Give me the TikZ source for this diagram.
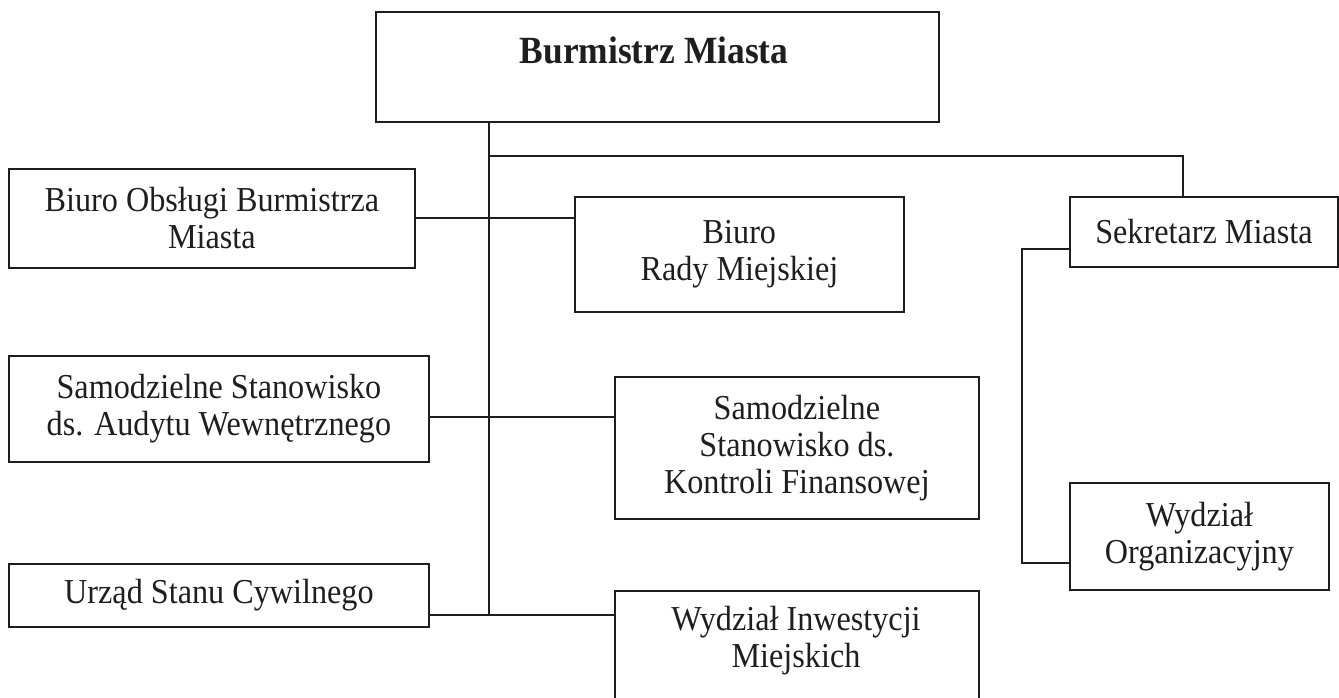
\documentclass[tikz,border=0pt]{standalone}
\usepackage{fontspec}
\setmainfont{Liberation Serif}[FakeStretch=0.92]
\definecolor{ink}{HTML}{1E1E1E}
\tikzset{
  box/.style={draw=ink, line width=1.8pt, anchor=north west, inner sep=0pt,
    align=center, text=ink, font=\fontsize{35}{37}\selectfont},
  wire/.style={draw=ink, line width=1.8pt},
  txt/.style={inner sep=0pt, align=center, text=ink, font=\fontsize{35}{37}\selectfont}
}
\begin{document}
\begin{tikzpicture}[x=1pt,y=-1pt]
\useasboundingbox (0,0) rectangle (1339,697);
% boxes
\node[box, minimum width=563pt, minimum height=110pt] (bm) at (375,11) {};
\node[txt, font=\fontsize{38.5}{40}\selectfont\bfseries, anchor=base] (bmt) at (654,63) {Burmistrz Miasta};
\node[box, minimum width=406pt, minimum height=99pt] (bob) at (8,168) {Biuro Obsługi Burmistrza\\Miasta};
\node[box, minimum width=329pt, minimum height=115pt] (brm) at (574,196) {Biuro\\Rady Miejskiej};
\node[box, minimum width=268pt, minimum height=70pt] (sek) at (1069,196) {Sekretarz Miasta};
\node[box, minimum width=420pt, minimum height=106pt] (sau) at (8,355) {Samodzielne Stanowisko\\ds. Audytu Wewnętrznego};
\node[box, minimum width=364pt, minimum height=142pt] (skf) at (614,376) {Samodzielne\\Stanowisko ds.\\Kontroli Finansowej};
\node[box, minimum width=259pt, minimum height=107pt] (wor) at (1069,482) {Wydział\\Organizacyjny};
\node[box, minimum width=420pt, minimum height=63pt] (usc) at (8,563) {Urząd Stanu Cywilnego};
\node[box, minimum width=364pt, minimum height=120pt] (wim) at (614,590) {};
\node[txt, anchor=base] (wimt) at (796,667) {Wydział Inwestycji\\Miejskich};
% junctions
\coordinate (t1) at (489,156);
\coordinate (t2) at (489,218);
\coordinate (t3) at (489,417);
\coordinate (t4) at (489,615);
\coordinate (s1) at (1022,249);
\coordinate (s2) at (1022,563);
% connectors
\draw[wire] (bm.south -| t1) -- (t4);
\draw[wire] (t1) -| ([xshift=-21pt]sek.north);
\draw[wire] (bob.east |- t2) -- (brm.west |- t2);
\draw[wire] (sau.east |- t3) -- (skf.west |- t3);
\draw[wire] (usc.east |- t4) -- (wim.west |- t4);
\draw[wire] (sek.west |- s1) -- (s1) -- (s2) -- (wor.west |- s2);
\end{tikzpicture}
\end{document}
